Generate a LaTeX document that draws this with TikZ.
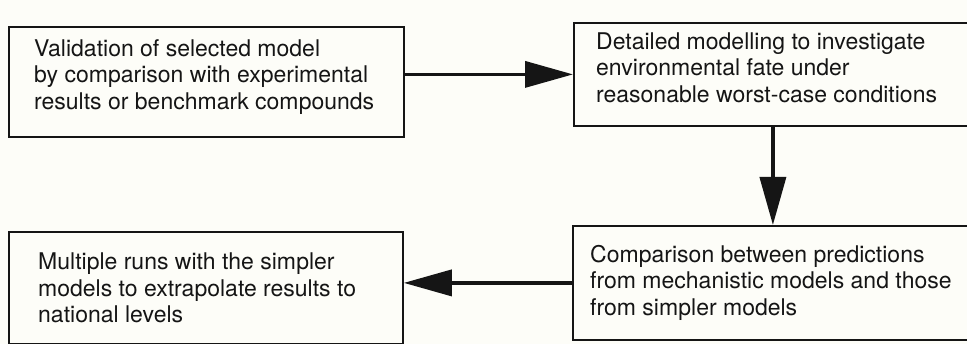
\documentclass[tikz,border=0pt]{standalone}
\usepackage{fontspec}
\setmainfont{TeX Gyre Heros}
\usetikzlibrary{arrows.meta, positioning}
\definecolor{paper}{HTML}{FDFDF8}
\definecolor{ink}{HTML}{151515}

\begin{document}
\begin{tikzpicture}[
    x=1pt, y=-1pt,
    box/.style={
        draw=ink,
        line width=1.8pt,
        inner sep=0pt,
        anchor=north west
    },
    boxtext/.style={
        font=\fontsize{23}{26.5}\selectfont,
        text=ink,
        align=left,
        inner sep=0pt
    },
    flow/.style={
        draw=ink,
        line width=3.6pt,
        -{Triangle[length=48pt, width=26pt]}
    }
]

% Page
\useasboundingbox (0,0) rectangle (967,344);
\fill[paper] (0,0) rectangle (967,344);
\clip (0,0) rectangle (967,344);

% Boxes
\node[box, minimum width=395pt, minimum height=110pt] (valid) at (8,26) {};
\node[box, minimum width=398pt, minimum height=103pt] (detail) at (573,22) {};
\node[box, minimum width=400pt, minimum height=114pt] (compare) at (572,225) {};
\node[box, minimum width=394pt, minimum height=112pt] (multi) at (8,231) {};

% Texts
\node[boxtext, right=26pt of valid.west, yshift=5pt] (validtxt)
    {Validation of selected model\\by comparison with experimental\\results or benchmark compounds};
\node[boxtext, right=23pt of detail.west, yshift=7pt] (detailtxt)
    {Detailed modelling to investigate\\environmental fate under\\reasonable worst-case conditions};
\node[boxtext, right=18pt of compare.west] (comparetxt)
    {Comparison between predictions\\from mechanistic models and those\\from simpler models};
\node[boxtext, right=30pt of multi.west] (multitxt)
    {Multiple runs with the simpler\\models to extrapolate results to\\national levels};

% Arrows
\draw[flow] (valid.east |- detail.west) -- (detail.west);
\draw[flow] (detail.south) -- (compare.north);
\draw[flow] (compare.west) -- (compare.west -| multi.east);

\end{tikzpicture}
\end{document}
